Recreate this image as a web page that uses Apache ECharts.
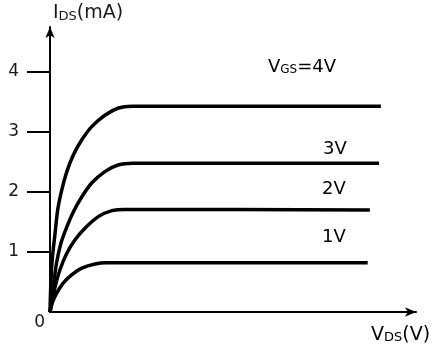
<!DOCTYPE html>
<html>
<head>
<meta charset="utf-8">
<script src="https://cdn.jsdelivr.net/npm/echarts@6/dist/echarts.min.js"></script>
<style>
  html, body { margin: 0; padding: 0; background: #fff; }
  #main { width: 433px; height: 351px; }
</style>
</head>
<body>
<div id="main"></div>
<script>
// output curves of the MOSFET, one per gate voltage: [VDS, IDS]
var vgs1 = [[0, 0], [0.06, 0.15], [0.18, 0.31], [0.36, 0.48], [0.59, 0.62], [0.87, 0.73], [1.23, 0.80], [1.55, 0.82], [8.68, 0.82]];
var vgs2 = [[0, 0], [0.05, 0.15], [0.14, 0.42], [0.27, 0.70], [0.46, 0.98], [0.68, 1.20], [0.96, 1.40], [1.32, 1.59], [1.69, 1.69], [2.05, 1.71], [8.74, 1.70]];
var vgs3 = [[0, 0], [0.03, 0.12], [0.09, 0.42], [0.18, 0.82], [0.30, 1.15], [0.46, 1.42], [0.64, 1.67], [0.87, 1.92], [1.14, 2.15], [1.50, 2.34], [1.86, 2.45], [2.27, 2.48], [8.99, 2.48]];
var vgs4 = [[0, 0], [0.02, 0.42], [0.06, 0.87], [0.14, 1.32], [0.21, 1.70], [0.32, 2.03], [0.46, 2.34], [0.64, 2.62], [0.87, 2.87], [1.14, 3.09], [1.50, 3.28], [1.87, 3.40], [2.23, 3.43], [9.04, 3.43]];
var yTicks = [1, 2, 3, 4];

var font = 'DejaVu Sans';
var ink = '#1a1a1a';
var rich = {
    m: { fontSize: 18, fontFamily: font, color: ink, verticalAlign: 'bottom' },
    s: { fontSize: 12, fontFamily: font, color: ink, verticalAlign: 'bottom' },
    n: { fontSize: 19, fontFamily: font, color: ink, verticalAlign: 'bottom' },
    t: { fontSize: 13, fontFamily: font, color: ink, verticalAlign: 'bottom' }
};

function curve(data) {
    return {
        type: 'line',
        data: data,
        symbol: 'none',
        smooth: 0.3,
        silent: true,
        lineStyle: { color: '#000', width: 3.5 }
    };
}

function label(x, y, text) {
    return {
        type: 'text',
        x: x,
        y: y,
        style: { text: text, rich: rich, align: 'left', verticalAlign: 'middle' }
    };
}

var myChart = echarts.init(document.getElementById('main'));
myChart.setOption({
    animation: false,
    grid: { left: 50, right: 17, top: 27, bottom: 39 },
    xAxis: {
        type: 'value',
        min: 0,
        max: 10,
        splitLine: { show: false },
        axisTick: { show: false },
        axisLine: {
            symbol: ['none', 'arrow'],
            symbolSize: [7, 11],
            lineStyle: { color: '#000', width: 2 }
        },
        axisLabel: {
            customValues: [0],
            formatter: '0',
            margin: 2,
            align: 'right',
            padding: [0, 5, 0, 0],
            fontSize: 17,
            fontFamily: font,
            color: ink
        }
    },
    yAxis: {
        type: 'value',
        min: 0,
        max: 4.75,
        name: '{n|I}{t|DS}{n|(mA)}',
        nameLocation: 'end',
        nameGap: 4,
        nameTextStyle: { align: 'left', padding: [0, 0, 0, 3], rich: rich },
        splitLine: { show: false },
        axisLine: {
            symbol: ['none', 'arrow'],
            symbolSize: [7, 11],
            lineStyle: { color: '#000', width: 2 }
        },
        axisTick: {
            customValues: yTicks,
            length: 23,
            lineStyle: { color: '#000', width: 2 }
        },
        axisLabel: {
            customValues: yTicks,
            margin: 31,
            fontSize: 17,
            fontFamily: font,
            color: ink
        }
    },
    series: [curve(vgs1), curve(vgs2), curve(vgs3), curve(vgs4)],
    graphic: [
        label(268, 67, '{m|V}{s|GS}{m|=4V}'),
        label(323, 149, '{m|3V}'),
        label(322, 189, '{m|2V}'),
        label(322, 237, '{m|1V}'),
        label(371, 335, '{n|V}{t|DS}{n|(V)}')
    ]
});
</script>
</body>
</html>
